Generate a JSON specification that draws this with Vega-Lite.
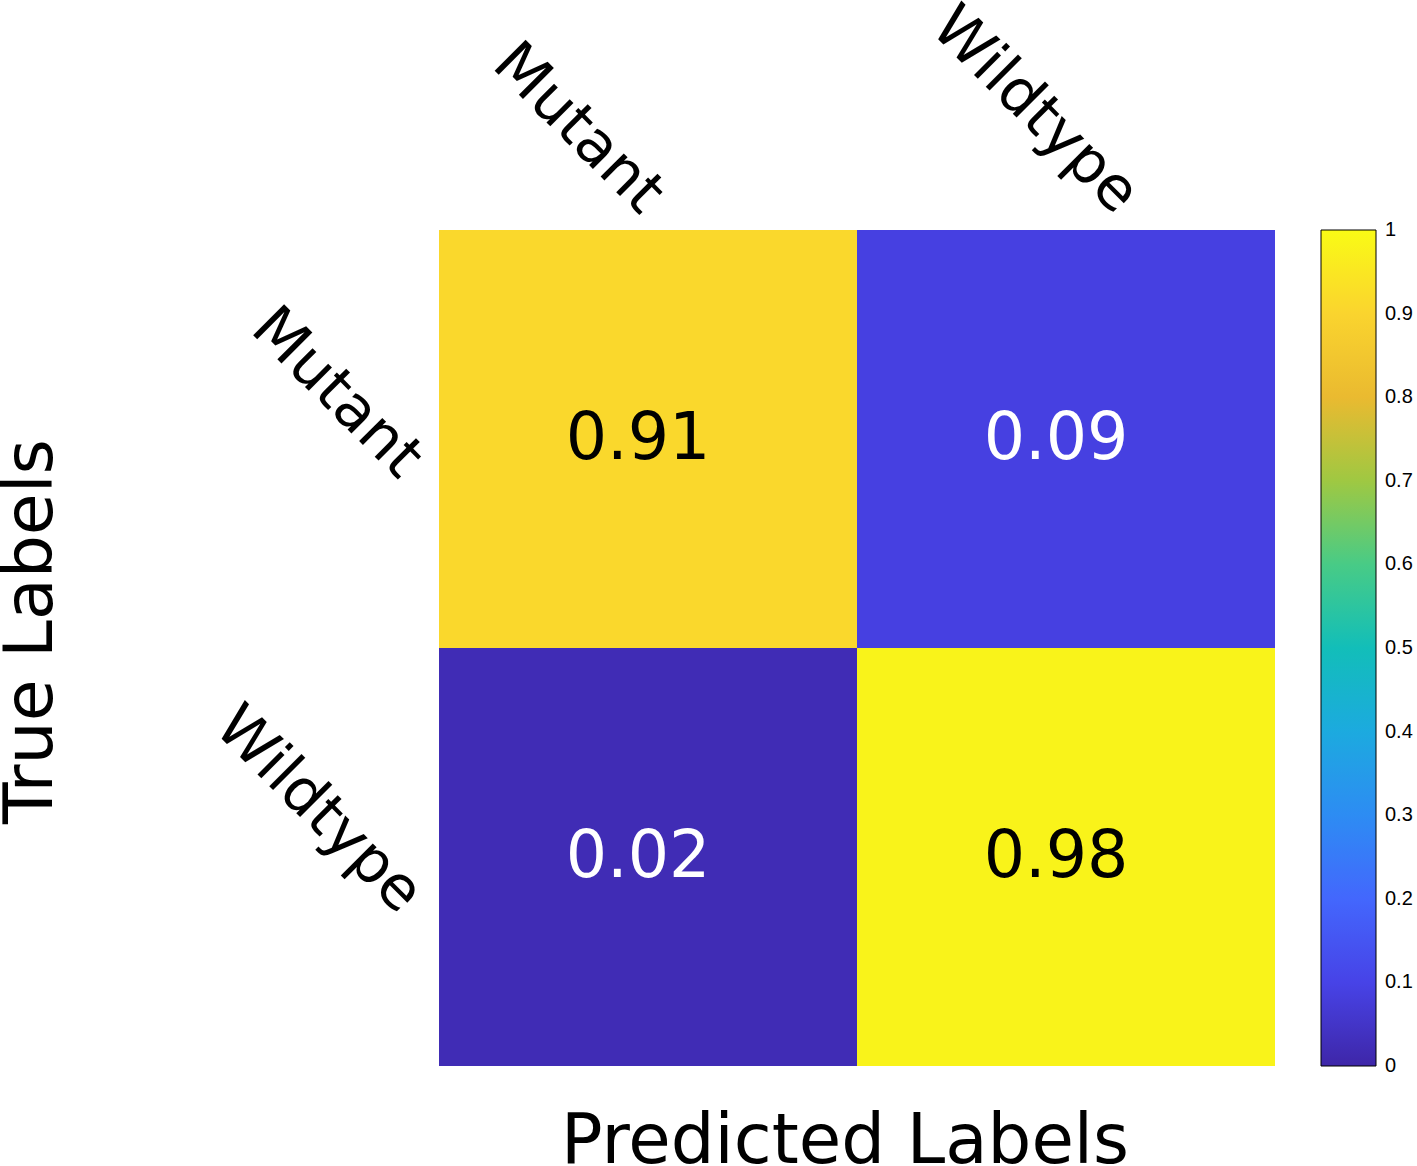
{
  "$schema": "https://vega.github.io/schema/vega-lite/v6.json",
  "autosize": "none",
  "width": 836,
  "height": 836,
  "padding": {"left": 439, "top": 230, "right": 142, "bottom": 100},
  "background": "white",
  "title": {
    "text": "Predicted Labels",
    "orient": "bottom",
    "anchor": "middle",
    "frame": "group",
    "font": "DejaVu Sans",
    "fontSize": 69,
    "fontWeight": "normal",
    "color": "black",
    "offset": 32,
    "dx": -12
  },
  "data": {
    "values": [
      {"true": "Mutant", "predicted": "Mutant", "value": 0.91},
      {"true": "Mutant", "predicted": "Wildtype", "value": 0.09},
      {"true": "Wildtype", "predicted": "Mutant", "value": 0.02},
      {"true": "Wildtype", "predicted": "Wildtype", "value": 0.98}
    ]
  },
  "config": {
    "view": {"stroke": null},
    "axis": {"grid": false, "domain": false, "ticks": false, "labelLimit": 0}
  },
  "encoding": {
    "x": {
      "field": "predicted",
      "type": "nominal",
      "sort": ["Mutant", "Wildtype"],
      "scale": {"paddingInner": 0, "paddingOuter": 0},
      "axis": {
        "orient": "top",
        "title": null,
        "labelAngle": 45,
        "labelAlign": "right",
        "labelBaseline": "middle",
        "labelFont": "DejaVu Sans",
        "labelFontSize": 60,
        "labelColor": "black",
        "labelPadding": 27,
        "labelLimit": 0,
        "labelOffset": {"condition": {"test": "datum.value === 'Wildtype'", "value": 62}, "value": 5}
      }
    },
    "y": {
      "field": "true",
      "type": "nominal",
      "sort": ["Mutant", "Wildtype"],
      "scale": {"paddingInner": 0, "paddingOuter": 0},
      "axis": {
        "orient": "left",
        "title": "True Labels",
        "titleFont": "DejaVu Sans",
        "titleFontSize": 68,
        "titleFontWeight": "normal",
        "titleColor": "black",
        "titleAngle": -90,
        "titleBaseline": "alphabetic",
        "titleAlign": "center",
        "titleX": -388,
        "titleY": 401,
        "labelAngle": 45,
        "labelAlign": "right",
        "labelBaseline": "middle",
        "labelFont": "DejaVu Sans",
        "labelFontSize": 60,
        "labelColor": "black",
        "labelPadding": 28,
        "labelLimit": 0,
        "labelOffset": {"condition": {"test": "datum.value === 'Wildtype'", "value": 46}, "value": 29}
      }
    }
  },
  "layer": [
    {
      "mark": {"type": "rect"},
      "encoding": {
        "color": {
          "field": "value",
          "type": "quantitative",
          "scale": {
            "domain": [0, 0.1, 0.2, 0.3, 0.4, 0.5, 0.6, 0.7, 0.8, 0.9, 1],
            "range": ["#3E26A8", "#4743E7", "#4367FD", "#2D8CF3", "#1CAADF", "#12BEB9", "#48CB86", "#9FC842", "#EABA30", "#FAD42E", "#F9FB15"],
            "interpolate": "rgb"
          },
          "legend": {
            "type": "gradient",
            "title": null,
            "orient": "right",
            "direction": "vertical",
            "offset": 46,
            "gradientLength": 836,
            "gradientThickness": 55,
            "gradientStrokeColor": "black",
            "gradientStrokeWidth": 1,
            "values": [0, 0.1, 0.2, 0.3, 0.4, 0.5, 0.6, 0.7, 0.8, 0.9, 1],
            "labelFont": "Liberation Sans",
            "labelFontSize": 20,
            "labelColor": "black",
            "labelOffset": 9,
            "labelOverlap": false,
            "format": "~g",
            "encode": {
              "labels": {"update": {"baseline": {"value": "middle"}}}
            }
          }
        }
      }
    },
    {
      "mark": {"type": "text", "font": "DejaVu Sans", "fontSize": 65, "baseline": "middle", "align": "center", "dx": -10},
      "encoding": {
        "text": {"field": "value", "type": "quantitative", "format": ".2f"},
        "color": {
          "condition": {"test": "datum.value > 0.5", "value": "black"},
          "value": "white"
        }
      }
    }
  ]
}
